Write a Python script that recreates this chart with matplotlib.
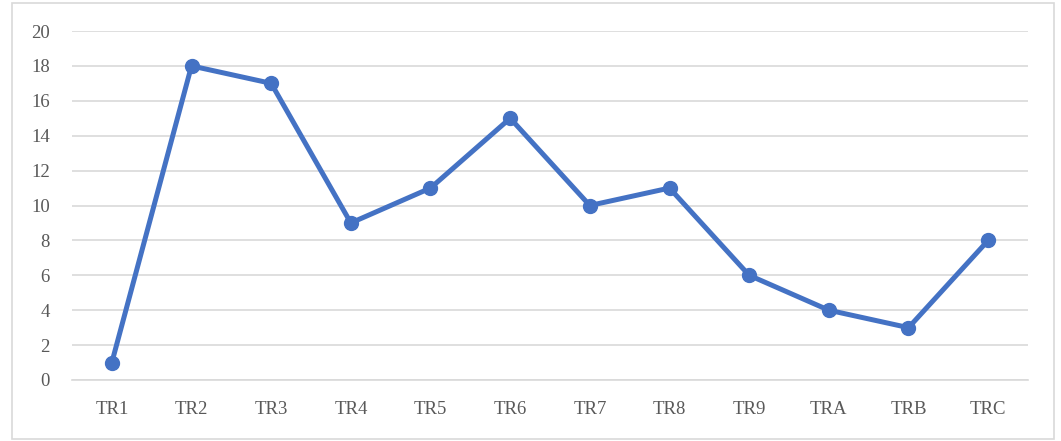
import matplotlib
matplotlib.use("Agg")
import matplotlib.pyplot as plt
from matplotlib.patches import Rectangle

categories = ['TR1', 'TR2', 'TR3', 'TR4', 'TR5', 'TR6', 'TR7', 'TR8', 'TR9', 'TRA', 'TRB', 'TRC']
values = [1, 18, 17, 9, 11, 15, 10, 11, 6, 4, 3, 8]
yticks = [0, 2, 4, 6, 8, 10, 12, 14, 16, 18, 20]

plt.rcParams['font.family'] = ['Liberation Serif', 'DejaVu Serif']

fig = plt.figure(figsize=(10.61, 4.41), dpi=100)
fig.patches.append(Rectangle((12 / 1061, 1 - 439 / 441), 1042 / 1061, 436 / 441,
                             transform=fig.transFigure, fill=False,
                             edgecolor='#d9d9d9', linewidth=1.2))
ax = fig.add_axes([72 / 1061, 1 - 380 / 441, 956 / 1061, 349 / 441])

x = list(range(len(categories)))
ax.plot(x, values, color='#4472c4', linewidth=3.6, marker='o', markersize=10,
        solid_joinstyle='round', zorder=3)

ax.set_xlim(-0.5, len(categories) - 0.5)
ax.set_ylim(0, 20)
ax.set_yticks(yticks)
ax.set_xticks(x)
ax.set_xticklabels(categories)
ax.grid(axis='y', color='#d9d9d9', linewidth=1.2)
ax.set_axisbelow(True)
for s in ax.spines.values():
    s.set_visible(False)
ax.tick_params(length=0, labelsize=13.5, colors='#595959')
ax.tick_params(axis='x', pad=15)
ax.tick_params(axis='y', pad=16)
ax.spines['bottom'].set_visible(True)
ax.spines['bottom'].set_color('#d9d9d9')
ax.spines['bottom'].set_linewidth(1.2)

fig.savefig('out.png', dpi=100)
